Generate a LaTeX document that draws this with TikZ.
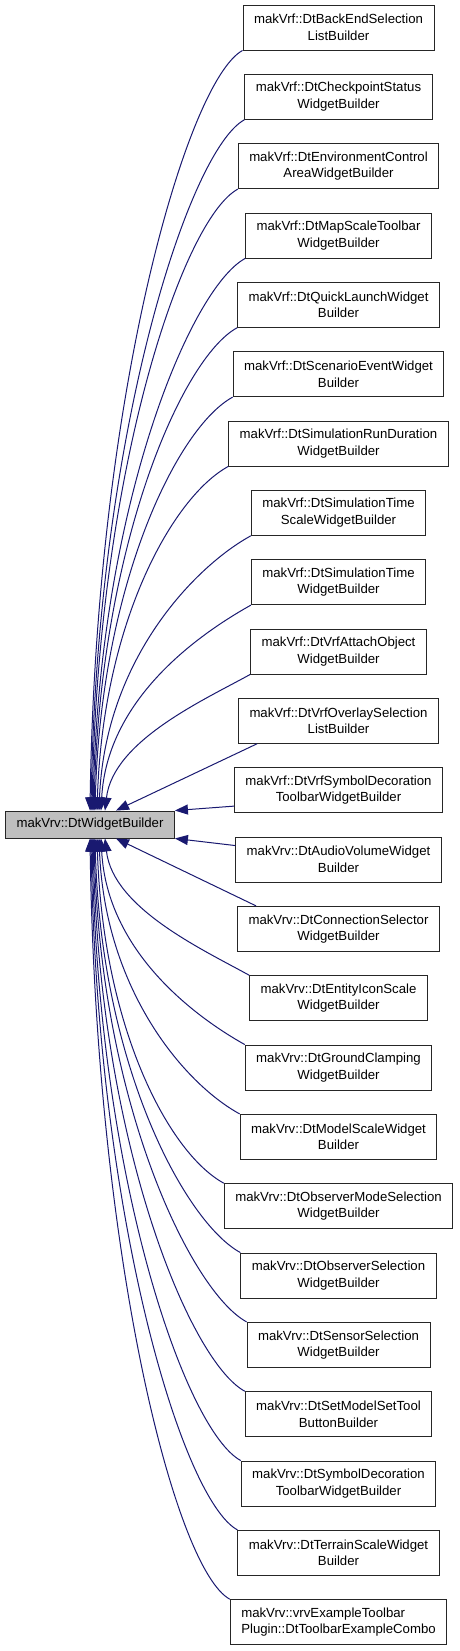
\documentclass[tikz,border=0pt]{standalone}
\usepackage{fontspec}
\setmainfont{Liberation Sans}
\usepackage{tikz}
\usetikzlibrary{arrows.meta}
\definecolor{azul}{RGB}{25,25,112}
\definecolor{gris}{RGB}{191,191,191}

\begin{document}
\begin{tikzpicture}[x=1pt, y=1pt, > = {Triangle[length=13pt, width=10pt]},
	clase/.style={draw=black!85, line width=0.9pt, fill=white, align=center,
		minimum height=45pt, inner xsep=11pt, font=\fontsize{13.2pt}{16.5pt}\selectfont},
	base/.style={clase, fill=gris, minimum height=27pt},
	hereda/.style={->, draw=azul, line width=1pt}]
	\useasboundingbox (0,0) rectangle (459,-1651);
	
	% clase base
	\node [base] (widget) at (90,-824.5) {makVrv::DtWidgetBuilder};
	
	% clases derivadas
	\node [clase] (backend)    at (338.5,-27.5)   {makVrf::DtBackEndSelection\\ListBuilder};
	\node [clase] (checkpoint) at (338.5,-96.83)  {makVrf::DtCheckpointStatus\\WidgetBuilder};
	\node [clase] (environment) at (338.5,-166.17) {makVrf::DtEnvironmentControl\\AreaWidgetBuilder};
	\node [clase] (mapscale)   at (338.5,-235.5)  {makVrf::DtMapScaleToolbar\\WidgetBuilder};
	\node [clase] (quicklaunch) at (338.5,-304.83) {makVrf::DtQuickLaunchWidget\\Builder};
	\node [clase] (scenario)   at (338.5,-374.17) {makVrf::DtScenarioEventWidget\\Builder};
	\node [clase] (runduration) at (338.5,-443.5) {makVrf::DtSimulationRunDuration\\WidgetBuilder};
	\node [clase] (timescale)  at (338.5,-512.83) {makVrf::DtSimulationTime\\ScaleWidgetBuilder};
	\node [clase] (simtime)    at (338.5,-582.17) {makVrf::DtSimulationTime\\WidgetBuilder};
	\node [clase] (attach)     at (338.5,-651.5)  {makVrf::DtVrfAttachObject\\WidgetBuilder};
	\node [clase] (overlay)    at (338.5,-720.83) {makVrf::DtVrfOverlaySelection\\ListBuilder};
	\node [clase] (vrfsymbol)  at (338.5,-790.17) {makVrf::DtVrfSymbolDecoration\\ToolbarWidgetBuilder};
	\node [clase] (audio)      at (338.5,-859.5)  {makVrv::DtAudioVolumeWidget\\Builder};
	\node [clase] (connection) at (338.5,-928.83) {makVrv::DtConnectionSelector\\WidgetBuilder};
	\node [clase] (iconscale)  at (338.5,-998.17) {makVrv::DtEntityIconScale\\WidgetBuilder};
	\node [clase] (clamping)   at (338.5,-1067.5) {makVrv::DtGroundClamping\\WidgetBuilder};
	\node [clase] (modelscale) at (338.5,-1136.83) {makVrv::DtModelScaleWidget\\Builder};
	\node [clase] (obsmode)    at (338.5,-1206.17) {makVrv::DtObserverModeSelection\\WidgetBuilder};
	\node [clase] (observer)   at (338.5,-1275.5) {makVrv::DtObserverSelection\\WidgetBuilder};
	\node [clase] (sensor)     at (338.5,-1344.83) {makVrv::DtSensorSelection\\WidgetBuilder};
	\node [clase] (modelset)   at (338.5,-1414.17) {makVrv::DtSetModelSetTool\\ButtonBuilder};
	\node [clase] (symbol)     at (338.5,-1483.5) {makVrv::DtSymbolDecoration\\ToolbarWidgetBuilder};
	\node [clase] (terrain)    at (338.5,-1552.83) {makVrv::DtTerrainScaleWidget\\Builder};
	\node [clase, align=left] (combo) at (338.5,-1622.17) {makVrv::vrvExampleToolbar\\Plugin::DtToolbarExampleCombo};
	
	% herencia, arriba
	\draw [hereda] (backend.south west) .. controls +(-55,-30) and +(6,419) .. ([xshift=0pt]widget.north);
	\draw [hereda] (checkpoint.south west) .. controls +(-55,-30) and +(6,380) .. ([xshift=1pt]widget.north);
	\draw [hereda] (environment.south west) .. controls +(-55,-30) and +(6,342) .. ([xshift=2pt]widget.north);
	\draw [hereda] (mapscale.south west) .. controls +(-55,-30) and +(6,304) .. ([xshift=3pt]widget.north);
	\draw [hereda] (quicklaunch.south west) .. controls +(-55,-30) and +(6,266) .. ([xshift=4pt]widget.north);
	\draw [hereda] (scenario.south west) .. controls +(-55,-30) and +(6,228) .. ([xshift=5pt]widget.north);
	\draw [hereda] (runduration.south west) .. controls +(-55,-30) and +(6,190) .. ([xshift=7pt]widget.north);
	\draw [hereda] (timescale.south west) .. controls +(-55,-30) and +(6,152) .. ([xshift=9pt]widget.north);
	\draw [hereda] (simtime.south west) .. controls +(-50,-28) and +(6,113) .. ([xshift=11pt]widget.north);
	\draw [hereda] (attach.south west) .. controls +(-45,-25) and +(8,70) .. ([xshift=15pt]widget.north);
	\draw [hereda] ([xshift=19pt]overlay.south west) -- ([xshift=26pt]widget.north);
	\draw [hereda] ([yshift=7pt]vrfsymbol.south west) -- (widget.north east);
	
	% herencia, abajo
	\draw [hereda] ([yshift=-9pt]audio.north west) -- (widget.south east);
	\draw [hereda] ([xshift=19pt]connection.north west) -- ([xshift=26pt]widget.south);
	\draw [hereda] (iconscale.north west) .. controls +(-45,25) and +(8,-70) .. ([xshift=15pt]widget.south);
	\draw [hereda] (clamping.north west) .. controls +(-50,28) and +(6,-113) .. ([xshift=11pt]widget.south);
	\draw [hereda] (modelscale.north west) .. controls +(-55,30) and +(6,-152) .. ([xshift=9pt]widget.south);
	\draw [hereda] (obsmode.north west) .. controls +(-55,30) and +(6,-190) .. ([xshift=7pt]widget.south);
	\draw [hereda] (observer.north west) .. controls +(-55,30) and +(6,-228) .. ([xshift=5pt]widget.south);
	\draw [hereda] (sensor.north west) .. controls +(-55,30) and +(6,-266) .. ([xshift=4pt]widget.south);
	\draw [hereda] (modelset.north west) .. controls +(-55,30) and +(6,-304) .. ([xshift=3pt]widget.south);
	\draw [hereda] (symbol.north west) .. controls +(-55,30) and +(6,-342) .. ([xshift=2pt]widget.south);
	\draw [hereda] (terrain.north west) .. controls +(-55,30) and +(6,-380) .. ([xshift=1pt]widget.south);
	\draw [hereda] (combo.north west) .. controls +(-55,30) and +(6,-419) .. ([xshift=0pt]widget.south);
\end{tikzpicture}
\end{document}
